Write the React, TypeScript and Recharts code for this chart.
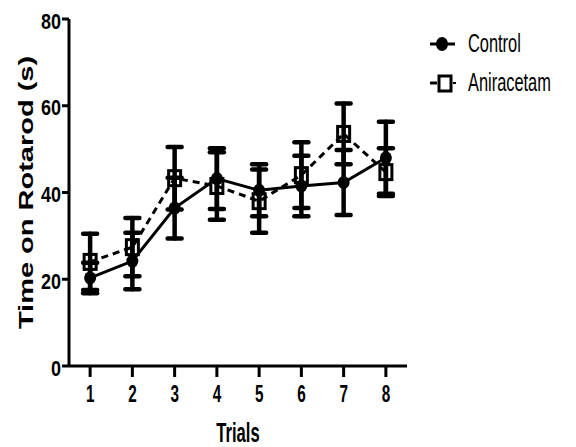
import React from "react";
import { LineChart, Line, XAxis, YAxis, ErrorBar, Label } from "recharts";

// values (mean ± SEM)
const trials = [1, 2, 3, 4, 5, 6, 7, 8];
const controlMean = [20.3, 24.2, 36.4, 43.2, 40.5, 41.5, 42.3, 48.0];
const controlSem = [3.5, 6.5, 7.0, 7.0, 6.0, 7.0, 7.5, 8.3];
const aniMean = [24.0, 27.4, 43.3, 41.5, 38.0, 44.0, 53.5, 44.7];
const aniSem = [6.5, 6.7, 7.2, 7.8, 7.3, 7.6, 7.0, 5.5];
const yTicks = [0, 20, 40, 60, 80];

const data = trials.map((t, i) => ({
  trial: t,
  ctrl: controlMean[i],
  ctrlErr: controlSem[i],
  ani: aniMean[i],
  aniErr: aniSem[i],
}));

const FONT = "'Liberation Sans', Arial, sans-serif";

// the figure is stretched vertically, so text is scaled by hand
const YTick = (props: any) => {
  const { x, y, payload } = props;
  return (
    <text
      transform={`translate(${x},${y + 9.5}) scale(1.0,1.25)`}
      textAnchor="end"
      fontFamily={FONT}
      fontWeight="bold"
      fontSize={18}
      fill="#000"
    >
      {payload.value}
    </text>
  );
};

const XTick = (props: any) => {
  const { x, payload } = props;
  return (
    <text
      transform={`translate(${x},402) scale(0.85,1.3)`}
      textAnchor="middle"
      fontFamily={FONT}
      fontWeight="bold"
      fontSize={18}
      fill="#000"
    >
      {payload.value}
    </text>
  );
};

const SquareDot = (props: any) => {
  const { cx, cy, index } = props;
  if (cx == null || cy == null) return null;
  return (
    <rect
      key={`sq-${index}`}
      x={cx - 6}
      y={cy - 7.5}
      width={12}
      height={15}
      fill="none"
      stroke="#000"
      strokeWidth={3}
    />
  );
};

const CircleDot = (props: any) => {
  const { cx, cy, index } = props;
  if (cx == null || cy == null) return null;
  return (
    <ellipse key={`c-${index}`} cx={cx} cy={cy} rx={6} ry={6.5} fill="#000" />
  );
};

const LegendBox = () => (
  <svg
    width={150}
    height={80}
    style={{ position: "absolute", left: 425, top: 25 }}
  >
    <line x1={5} y1={19} x2={30} y2={19} stroke="#000" strokeWidth={3} />
    <ellipse cx={17} cy={19} rx={6} ry={7} fill="#000" />
    <text
      transform="translate(43,27) scale(0.82,1.25)"
      fontFamily={FONT}
      fontSize={20}
      fill="#000"
    >
      Control
    </text>
    <line x1={5} y1={58} x2={12} y2={58} stroke="#000" strokeWidth={3} />
    <line x1={28} y1={58} x2={31} y2={58} stroke="#000" strokeWidth={2} />
    <rect
      x={14}
      y={51}
      width={12}
      height={15}
      fill="none"
      stroke="#000"
      strokeWidth={3}
    />
    <text
      transform="translate(43,66) scale(0.82,1.25)"
      fontFamily={FONT}
      fontSize={20}
      fill="#000"
    >
      Aniracetam
    </text>
  </svg>
);

export default function App() {
  return (
    <div
      style={{
        position: "absolute",
        left: 0,
        top: 0,
        width: 576,
        height: 447,
        background: "#fff",
      }}
    >
      <LineChart
        width={576}
        height={447}
        data={data}
        margin={{ top: 19, right: 169, bottom: 0, left: 0 }}
      >
        <XAxis
          dataKey="trial"
          type="number"
          domain={[0.5, 8.5]}
          ticks={trials}
          height={81}
          tick={<XTick />}
          tickSize={11}
          axisLine={{ stroke: "#000", strokeWidth: 3 }}
          tickLine={{ stroke: "#000", strokeWidth: 3 }}
        >
          <Label
            content={(p: any) => {
              const vb = p.viewBox;
              return (
                <text
                  transform={`translate(${vb.x + vb.width / 2},442) scale(0.83,1.4)`}
                  textAnchor="middle"
                  fontFamily={FONT}
                  fontWeight="bold"
                  fontSize={20}
                  fill="#000"
                >
                  Trials
                </text>
              );
            }}
          />
        </XAxis>
        <YAxis
          type="number"
          domain={[0, 80]}
          ticks={yTicks}
          width={69}
          tick={<YTick />}
          tickSize={7}
          tickMargin={1}
          axisLine={{ stroke: "#000", strokeWidth: 3 }}
          tickLine={{ stroke: "#000", strokeWidth: 3 }}
        >
          <Label
            content={(p: any) => {
              const vb = p.viewBox;
              const cy = vb.y + vb.height / 2;
              return (
                <text
                  transform={`translate(33,${cy}) rotate(-90) scale(1.45,1.0)`}
                  textAnchor="middle"
                  fontFamily={FONT}
                  fontWeight="bold"
                  fontSize={20}
                  fill="#000"
                >
                  Time on Rotarod (s)
                </text>
              );
            }}
          />
        </YAxis>
        <Line
          dataKey="ctrl"
          type="linear"
          stroke="#000"
          strokeWidth={3}
          dot={<CircleDot />}
          isAnimationActive={false}
        >
          <ErrorBar
            dataKey="ctrlErr"
            direction="y"
            width={7}
            stroke="#000"
            strokeWidth={4.5}
            strokeLinecap="round"
            isAnimationActive={false}
          />
        </Line>
        <Line
          dataKey="ani"
          type="linear"
          stroke="#000"
          strokeWidth={3}
          strokeDasharray="7 5"
          dot={<SquareDot />}
          isAnimationActive={false}
        >
          <ErrorBar
            dataKey="aniErr"
            direction="y"
            width={7}
            stroke="#000"
            strokeWidth={4.5}
            strokeLinecap="round"
            isAnimationActive={false}
          />
        </Line>
      </LineChart>
      <LegendBox />
    </div>
  );
}
